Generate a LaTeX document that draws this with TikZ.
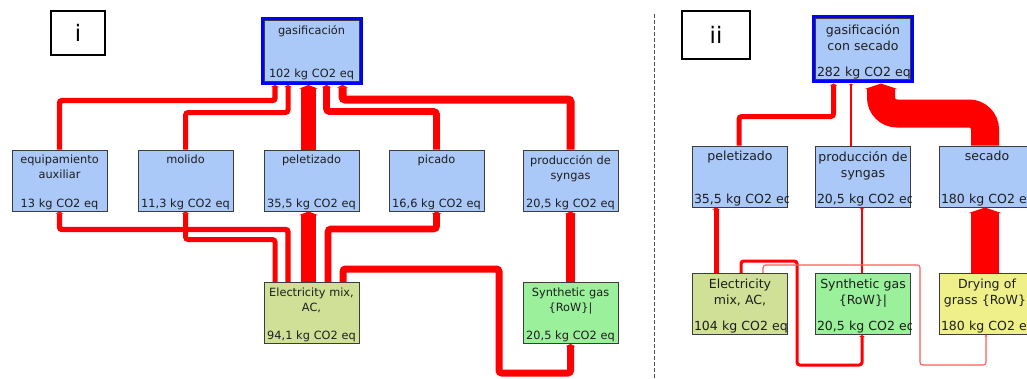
\documentclass[tikz,border=0pt]{standalone}
\usepackage{fontspec}
\setmainfont{DejaVu Sans}
\usepackage{xcolor}
\usepackage{tikz}
\usetikzlibrary{arrows.meta}
\definecolor{ProcBlue}{RGB}{170, 200, 248}
\definecolor{ElecGreen}{RGB}{208, 224, 150}
\definecolor{GasGreen}{RGB}{155, 240, 155}
\definecolor{DryYellow}{RGB}{240, 240, 138}
\definecolor{FlowRed}{RGB}{255, 0, 0}
\definecolor{FlowLight}{RGB}{255, 90, 90}
\definecolor{EdgeGray}{RGB}{60, 60, 60}
\definecolor{TextDark}{RGB}{30, 30, 30}
\definecolor{PickBlue}{RGB}{0, 0, 255}
\definecolor{DividerGray}{RGB}{80, 80, 80}

% colour, name, centre, name lines, value
\newcommand{\procbox}[5]{%
  \node[proc, fill=#1] (#2) at (#3) {};
  \begin{scope}
    \clip (#2.south west) rectangle (#2.north east);
    \node[toptext] at ([shift={(0,5.5)}]#2.north) {#4};
    \node[valtext] at ([shift={(0,-4.5)}]#2.south) {\mbox{#5}};
  \end{scope}}

\begin{document}
\begin{tikzpicture}[x=0.75pt, y=-0.75pt,
    proc/.style={draw=EdgeGray, line width=0.75pt, minimum width=71.25pt,
      minimum height=45.75pt, inner sep=0pt},
    toptext/.style={anchor=north, inner sep=0pt, text width=69pt,
      align=center, text=TextDark},
    valtext/.style={anchor=base, inner sep=0pt, text width=69pt,
      align=center, text=TextDark},
    flow/.style={draw=FlowRed, rounded corners=2pt,
      -{Triangle[width=1.5pt 1.1, length=1pt 0.15]}},
    pick/.style={draw=PickBlue, line width=2.25pt},
    tag/.style={draw=black, line width=1.5pt, fill=white,
      font=\fontsize{17}{20}\selectfont}]
  \useasboundingbox (0,0) rectangle (1027,378);
  \clip (0,0) rectangle (1027,378);

  % panel i
  \node[tag, minimum width=40.5pt, minimum height=33pt] (tagi) at (78,33) {i};
  \begin{scope}[font=\fontsize{8.5}{11.3}\selectfont]
    \procbox{ProcBlue}{gas1}{311.5,51}{gasificación}{102 kg CO2 eq}
    \procbox{ProcBlue}{equip}{59.5,180.5}{equipamiento\\auxiliar}{13 kg CO2 eq}
    \procbox{ProcBlue}{molido}{185.5,180.5}{molido}{11,3 kg CO2 eq}
    \procbox{ProcBlue}{pel1}{311.5,180.5}{peletizado}{35,5 kg CO2 eq}
    \procbox{ProcBlue}{picado}{436.5,180.5}{picado}{16,6 kg CO2 eq}
    \procbox{ProcBlue}{prod1}{570.5,180.5}{producción de\\syngas}{20,5 kg CO2 eq}
    \procbox{ElecGreen}{elec1}{311.5,313}{Electricity mix,\\AC,}{94,1 kg CO2 eq}
    \procbox{GasGreen}{synth1}{570.5,313}{Synthetic gas\\\{RoW\}|}{20,5 kg CO2 eq}
  \end{scope}
  \draw[pick] ([shift={(-1.5,-1.5)}]gas1.north west) rectangle ([shift={(1.5,1.5)}]gas1.south east);

  \draw[flow, line width=4.1pt] (equip.north) -- ++(0,-49) -| ([shift={(-36.5,3)}]gas1.south);
  \draw[flow, line width=3.75pt] (molido.north) -- ++(0,-37) -| ([shift={(-23.5,3)}]gas1.south);
  \draw[flow, line width=11.25pt] ([shift={(-3,0)}]pel1.north) -- ([shift={(-3,3)}]gas1.south);
  \draw[flow, line width=4.9pt] (picado.north) -- ++(0,-38) -| ([shift={(15,3)}]gas1.south);
  \draw[flow, line width=6pt] (prod1.north) -- ++(0,-50) -| ([shift={(31,3)}]gas1.south);

  \draw[flow, line width=4.1pt] ([shift={(-23.5,0)}]elec1.north) -- ++(0,-52.5) -| (equip.south);
  \draw[flow, line width=3.75pt] ([shift={(-36.5,0)}]elec1.north) -- ++(0,-42.5) -| (molido.south);
  \draw[flow, line width=11.25pt] ([shift={(-3,0)}]elec1.north) -- ([shift={(-3,0)}]pel1.south);
  \draw[flow, line width=4.9pt] ([shift={(16.5,0)}]elec1.north) -- ++(0,-53) -| (picado.south);
  \draw[flow, line width=5.25pt] ([shift={(31.5,0)}]elec1.north) -- ++(0,-13) -| (499,373) -| (synth1.south);
  \draw[flow, line width=6.4pt] (synth1.north) -- (prod1.south);

  % divider
  \draw[DividerGray, line width=0.75pt, dash pattern=on 3pt off 1.5pt] (654,14) -- (654,378);

  % panel ii
  \node[tag, minimum width=51pt, minimum height=36pt] (tagii) at (716,35) {ii};
  \begin{scope}[font=\fontsize{9.4}{12}\selectfont]
    \procbox{ProcBlue}{gas2}{863,49.5}{gasificación\\con secado}{282 kg CO2 eq}
    \procbox{ProcBlue}{pel2}{740,176.5}{peletizado}{35,5 kg CO2 eq}
    \procbox{ProcBlue}{prod2}{863,176.5}{producción de\\syngas}{20,5 kg CO2 eq}
    \procbox{ProcBlue}{sec2}{987,176.5}{secado}{180 kg CO2 eq}
    \procbox{ElecGreen}{elec2}{740,304}{Electricity\\mix, AC,}{104 kg CO2 eq}
    \procbox{GasGreen}{synth2}{863,304}{Synthetic gas\\\{RoW\}|}{20,5 kg CO2 eq}
    \procbox{DryYellow}{dry2}{987,304}{Drying of\\grass~\{RoW\}|}{180 kg CO2 eq}
  \end{scope}
  \draw[pick] ([shift={(-1.5,-1.5)}]gas2.north west) rectangle ([shift={(1.5,1.5)}]gas2.south east);

  \draw[flow, line width=3.75pt] ([shift={(-1,0)}]pel2.north) -- ++(0,-29) -| ([shift={(-29.5,3)}]gas2.south);
  \draw[flow, line width=1.7pt] ([shift={(-12,0)}]prod2.north) -- ([shift={(-12,3)}]gas2.south);
  \draw[flow, line width=21pt, rounded corners=12pt] ([shift={(-2,0)}]sec2.north) -- ++(0,-32) -| ([shift={(18,3)}]gas2.south);

  \draw[flow, line width=3.75pt] ([shift={(-24,0)}]elec2.north) -- ([shift={(-24,0)}]pel2.south);
  \draw[flow, line width=1.7pt] ([shift={(-1,0)}]synth2.north) -- ([shift={(-1,0)}]prod2.south);
  \draw[flow, line width=21pt] ([shift={(-2,0)}]dry2.north) -- ([shift={(-2,0)}]sec2.south);
  \draw[flow, line width=2.25pt] ([shift={(1,0)}]elec2.north) -- ++(0,-12) -| (797,365) -| ([shift={(-1,0)}]synth2.south);
  \draw[flow, draw=FlowLight, line width=0.8pt] ([shift={(23,0)}]elec2.north) -- ++(0,-8) -| (920,365) -| ([shift={(-1,0)}]dry2.south);
\end{tikzpicture}
\end{document}
